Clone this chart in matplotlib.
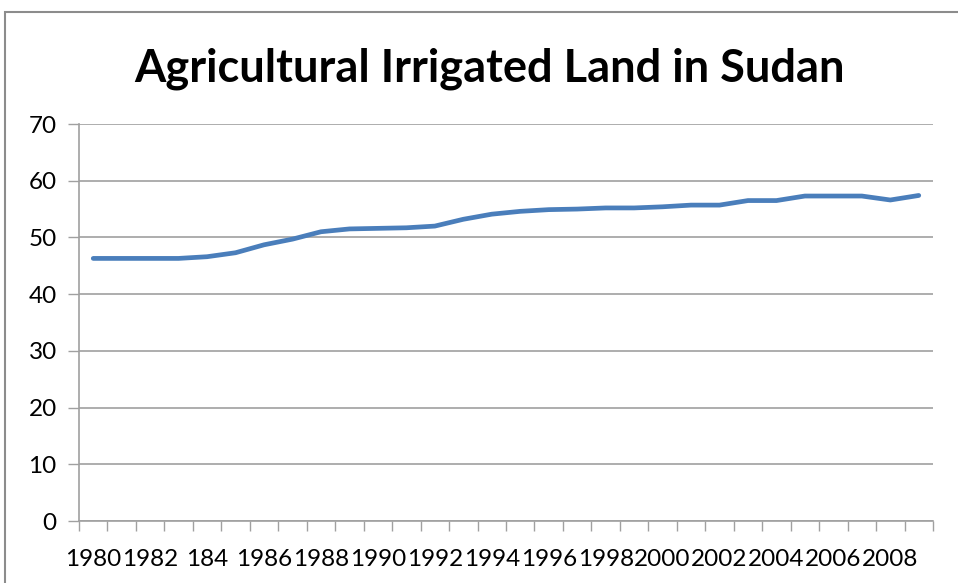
import matplotlib
matplotlib.use("Agg")
import matplotlib.pyplot as plt
from matplotlib.patches import Rectangle
import numpy as np

years = list(range(1980, 2010))
values = [46.3, 46.3, 46.3, 46.3, 46.6, 47.3, 48.7, 49.7, 51.0, 51.5,
          51.6, 51.7, 52.0, 53.2, 54.1, 54.6, 54.9, 55.0, 55.2, 55.2,
          55.4, 55.7, 55.7, 56.5, 56.5, 57.3, 57.3, 57.3, 56.6, 57.4]
tick_labels = ["1980", "1982", "184", "1986", "1988", "1990", "1992", "1994",
               "1996", "1998", "2000", "2002", "2004", "2006", "2008"]
title = "Agricultural Irrigated Land in Sudan"

plt.rcParams['font.family'] = ['Lato', 'DejaVu Sans']

fig = plt.figure(figsize=(9.58, 5.83), dpi=100)
fig.patches.append(Rectangle((5/958, -0.1), 1.2, (1 - 12/583) + 0.1,
                             transform=fig.transFigure, fill=False,
                             edgecolor='#8c8c8c', linewidth=1.5))
ax = fig.add_axes([79/958, 1 - 521/583, (933 - 79)/958, (521 - 124)/583])

x = np.arange(len(years))
ax.plot(x, values, color='#4a7ebb', linewidth=3.4, solid_joinstyle='round',
        solid_capstyle='round', zorder=3)

ax.set_xlim(-0.5, len(years) - 0.5)
ax.set_ylim(0, 70)
ax.set_yticks(np.arange(0, 71, 10))
ax.grid(axis='y', color='#a0a0a0', linewidth=1.2)
ax.set_axisbelow(True)

ax.set_xticks(np.arange(-0.5, len(years), 1.0))
ax.set_xticklabels([])
ax.tick_params(axis='x', which='major', length=7, color='#a0a0a0', width=1)
ax.set_xticks(x[::2], minor=True)
ax.set_xticklabels(tick_labels, minor=True)
ax.tick_params(axis='x', which='minor', length=0, pad=20, labelsize=17.5)
ax.tick_params(axis='y', length=8, color='#a0a0a0', width=1, labelsize=17.5, pad=8)

for s in ['top', 'right']:
    ax.spines[s].set_visible(False)
for s in ['left', 'bottom']:
    ax.spines[s].set_color('#a0a0a0')
    ax.spines[s].set_linewidth(1.2)

fig.text(490/958, 1 - 69/583, title, ha='center', va='center',
         fontsize=32.5, fontweight='bold')

fig.savefig("out.png", dpi=100)
